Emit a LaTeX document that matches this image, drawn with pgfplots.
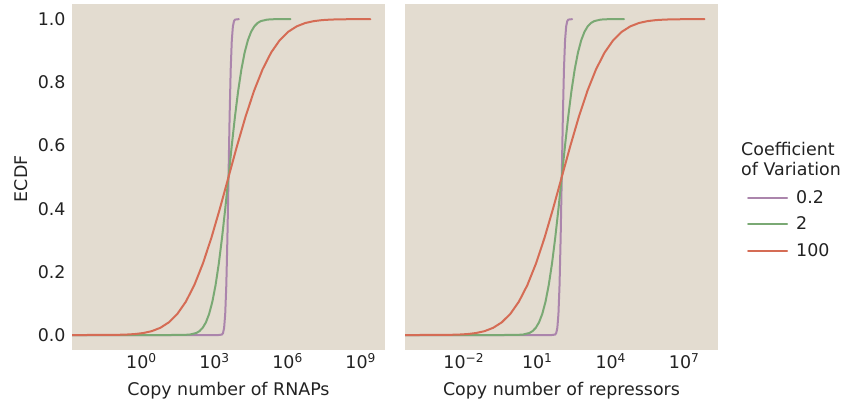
\documentclass[border=0pt]{standalone}
\usepackage{fontspec}
\setmainfont{DejaVu Sans}
\usepackage{pgfplots}
\pgfplotsset{compat=1.18}
\usepackage{pgfplotstable}
\definecolor{bg}{HTML}{E3DCD0}
\definecolor{cvp}{HTML}{AB85AC}
\definecolor{cvg}{HTML}{7AA974}
\definecolor{cvr}{HTML}{D56C55}
\definecolor{txt}{HTML}{222222}

% left panel (RNAPs), lx = log10(copy number)
\pgfplotstableread{
lx y
-3.5 0
-2.25 0
-1.325 0.00023
-0.975 0.00058
-0.625 0.00135
-0.275 0.00298
0.075 0.00621
0.425 0.01222
0.775 0.02275
1.125 0.04006
1.475 0.06681
1.825 0.10565
2.175 0.15866
2.525 0.22663
2.875 0.30854
3.225 0.40129
3.575 0.5
3.925 0.59871
4.275 0.69146
4.625 0.77337
4.975 0.84134
5.325 0.89435
5.675 0.93319
6.025 0.95994
6.375 0.97725
6.725 0.98778
7.075 0.99379
7.425 0.99702
7.775 0.99865
8.125 0.99942
8.475 0.99977
9.4 1.0
}\LRed
\pgfplotstableread{
lx y
-3.5 0
1.19 0
1.455 0.00003
1.72 0.00023
1.985 0.00135
2.25 0.00621
2.3825 0.01222
2.515 0.02275
2.6475 0.04006
2.78 0.06681
2.9125 0.10565
3.045 0.15866
3.1775 0.22663
3.31 0.30854
3.4425 0.40129
3.575 0.5
3.7075 0.59871
3.84 0.69146
3.9725 0.77337
4.105 0.84134
4.2375 0.89435
4.37 0.93319
4.5025 0.95994
4.635 0.97725
4.7675 0.98778
4.9 0.99379
5.165 0.99865
5.43 0.99977
5.695 0.99997
6.12 1.0
}\LGreen
\pgfplotstableread{
lx y
-3.5 0
3.17 0
3.305 0.00135
3.35 0.00621
3.395 0.02275
3.44 0.06681
3.485 0.15866
3.53 0.30854
3.575 0.5
3.62 0.69146
3.665 0.84134
3.71 0.93319
3.755 0.97725
3.8 0.99379
3.845 0.99865
4.0 1.0
}\LPurple
% right panel (repressors)
\pgfplotstableread{
lx y
-5.0 0
-3.825 0
-2.9 0.00023
-2.55 0.00058
-2.2 0.00135
-1.85 0.00298
-1.5 0.00621
-1.15 0.01222
-0.8 0.02275
-0.45 0.04006
-0.1 0.06681
0.25 0.10565
0.6 0.15866
0.95 0.22663
1.3 0.30854
1.65 0.40129
2.0 0.5
2.35 0.59871
2.7 0.69146
3.05 0.77337
3.4 0.84134
3.75 0.89435
4.1 0.93319
4.45 0.95994
4.8 0.97725
5.15 0.98778
5.5 0.99379
5.85 0.99702
6.2 0.99865
6.55 0.99942
6.9 0.99977
7.825 1.0
}\RRed
\pgfplotstableread{
lx y
-5.0 0
-0.385 0
-0.12 0.00003
0.145 0.00023
0.41 0.00135
0.675 0.00621
0.8075 0.01222
0.94 0.02275
1.0725 0.04006
1.205 0.06681
1.3375 0.10565
1.47 0.15866
1.6025 0.22663
1.735 0.30854
1.8675 0.40129
2.0 0.5
2.1325 0.59871
2.265 0.69146
2.3975 0.77337
2.53 0.84134
2.6625 0.89435
2.795 0.93319
2.9275 0.95994
3.06 0.97725
3.1925 0.98778
3.325 0.99379
3.59 0.99865
3.855 0.99977
4.12 0.99997
4.545 1.0
}\RGreen
\pgfplotstableread{
lx y
-5.0 0
1.595 0
1.73 0.00135
1.775 0.00621
1.82 0.02275
1.865 0.06681
1.91 0.15866
1.955 0.30854
2.0 0.5
2.045 0.69146
2.09 0.84134
2.135 0.93319
2.18 0.97725
2.225 0.99379
2.27 0.99865
2.425 1.0
}\RPurple

\pgfplotsset{ecdf/.style={
  scale only axis, width=313bp, height=346bp,
  ymin=-0.0475, ymax=1.048,
  axis background/.style={fill=bg},
  axis line style={draw=none},
  major tick length=0pt, tick style={draw=none},
  /pgf/number format/assume math mode=true,
  tick label style={font=\fontsize{17.5}{20}\selectfont, text=txt},
  label style={font=\fontsize{17.5}{20}\selectfont, text=txt},
  xlabel style={at={(axis description cs:0.5,0)}, anchor=base, yshift=-45bp},
  every axis plot/.append style={line width=2bp, line join=round, line cap=round},
}}

\begin{document}
\begin{tikzpicture}[x=1bp,y=1bp]
\path[use as bounding box] (0,0) rectangle (844,402);
\begin{axis}[xmode=log, ecdf, at={(72bp,52bp)}, anchor=south west,
  xmin=1.41e-3, xmax=1e10,
  xtick={1,1e3,1e6,1e9},
  xticklabels={10\textsuperscript{0},10\textsuperscript{3},10\textsuperscript{6},10\textsuperscript{9}},
  ytick={0,0.2,0.4,0.6,0.8,1.0},
  yticklabel style={xshift=-3bp, /pgf/number format/.cd, fixed, fixed zerofill, precision=1},
  ylabel style={at={(axis description cs:-0.161,0.495)}, anchor=center},
  xlabel={Copy number of RNAPs}, ylabel={ECDF}]
\addplot[cvp] table[x expr={10^(\thisrow{lx})}, y=y] {\LPurple};
\addplot[cvg] table[x expr={10^(\thisrow{lx})}, y=y] {\LGreen};
\addplot[cvr] table[x expr={10^(\thisrow{lx})}, y=y] {\LRed};
\end{axis}
\begin{axis}[xmode=log, ecdf, at={(405bp,52bp)}, anchor=south west,
  xmin=3.98e-5, xmax=2.4e8,
  xtick={1e-2,1e1,1e4,1e7},
  xticklabels={10\textsuperscript{−2},10\textsuperscript{1},10\textsuperscript{4},10\textsuperscript{7}},
  ytick=\empty,
  xlabel={Copy number of repressors},
  legend cell align=left,
  legend image code/.code={\draw[#1] (0bp,0bp) -- (39bp,0bp); \path[draw=none,fill=none] (0bp,0bp) -- (46bp,0bp);},
  legend style={draw=none, fill=none, at={(axis description cs:1.083,0.473)}, anchor=north west,
    font=\fontsize{17.5}{20}\selectfont, text=txt, row sep=8bp}]
\addplot[cvp] table[x expr={10^(\thisrow{lx})}, y=y] {\RPurple};
\addlegendentry{0.2}
\addplot[cvg] table[x expr={10^(\thisrow{lx})}, y=y] {\RGreen};
\addlegendentry{2}
\addplot[cvr] table[x expr={10^(\thisrow{lx})}, y=y] {\RRed};
\addlegendentry{100}
\end{axis}
\node[anchor=base west, font=\fontsize{17.5}{20}\selectfont, text=txt, inner sep=0pt] at (741,247) {Coefficient};
\node[anchor=base west, font=\fontsize{17.5}{20}\selectfont, text=txt, inner sep=0pt] at (741,227) {of Variation};
\end{tikzpicture}
\end{document}
